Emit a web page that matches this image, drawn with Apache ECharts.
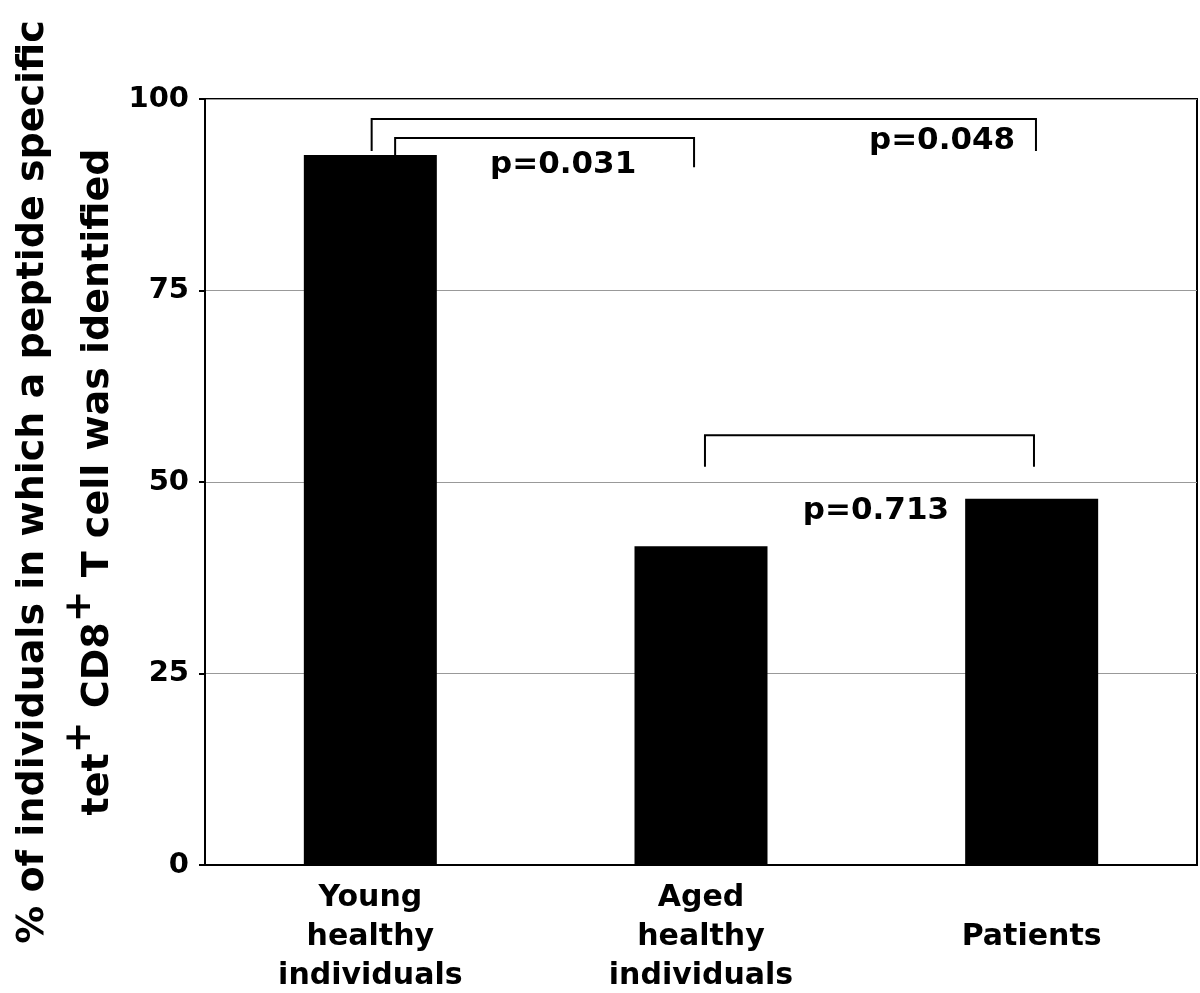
<!DOCTYPE html>
<html>
<head>
<meta charset="utf-8">
<script src="https://cdn.jsdelivr.net/npm/echarts@6/dist/echarts.min.js"></script>
<style>html,body{margin:0;padding:0;background:#fff}#c{width:1200px;height:993px}</style>
</head>
<body>
<div id="c"></div>
<script>
var categories = ['Young\nhealthy\nindividuals', 'Aged\nhealthy\nindividuals', 'Patients'];
var values = [92.7, 41.6, 47.8];
var yTicks = [0, 25, 50, 75, 100];
// brackets: [fromX, toX, barY, leftLegEndY, rightLegEndY] in category-index / percent units
var brackets = [
  [0.004, 2.013, 97.4, 93.2, 93.2],
  [0.075, 0.979, 94.9, 92.7, 91.1],
  [1.012, 2.007, 56.1, 52.0, 52.0]
];
// p-value labels: [x, y, text]
var pLabels = [
  [0.583, 91.4, 'p=0.031'],
  [1.729, 94.5, 'p=0.048'],
  [1.529, 46.2, 'p=0.713']
];

var font = "'DejaVu Sans', Verdana, sans-serif";

var chart = echarts.init(document.getElementById('c'), null, {renderer: 'canvas'});
chart.setOption({
  backgroundColor: '#fff',
  animation: false,
  grid: {left: 205, right: 3, top: 99, bottom: 128, show: true, borderColor: '#000', borderWidth: 2,
    backgroundColor: 'transparent', containLabel: false, outerBoundsMode: 'none'},
  xAxis: [{
    type: 'category',
    data: categories,
    axisLine: {show: true, onZero: false, lineStyle: {color: '#000', width: 2}},
    axisTick: {show: false},
    axisLabel: {color: '#000', fontFamily: font, fontWeight: 'bold', fontSize: 30, lineHeight: 39, margin: 72, verticalAlign: 'middle', interval: 0}
  }, {
    type: 'value', min: -0.5, max: 2.5, show: false,
    axisLine: {onZero: false}
  }],
  yAxis: {
    type: 'value', min: 0, max: 100, interval: 25,
    axisLine: {show: true, onZero: false, lineStyle: {color: '#000', width: 2}},
    axisTick: {show: true, length: 6, lineStyle: {color: '#000', width: 2}},
    splitLine: {show: true, lineStyle: {color: '#999', width: 1}},
    axisLabel: {color: '#000', fontFamily: font, fontWeight: 'bold', fontSize: 29, margin: 16,
      customValues: yTicks},
    name: '{a|% of individuals in which a peptide specific}\n{a|tet}{s|+}{a| CD8}{s|+}{a| T cell was identified}',
    nameLocation: 'middle',
    nameRotate: 90,
    nameGap: 88,
    nameTextStyle: {
      rich: {
        a: {fontFamily: font, fontWeight: 'bold', fontSize: 38, color: '#000', lineHeight: 65, verticalAlign: 'bottom'},
        s: {fontFamily: font, fontWeight: 'bold', fontSize: 38, color: '#000', lineHeight: 65, verticalAlign: 'bottom', padding: [0, 0, 18, 0]}
      }
    }
  },
  series: [{
    type: 'bar',
    data: values,
    barWidth: 133,
    itemStyle: {color: '#000'},
    silent: true
  }, {
    type: 'custom',
    xAxisIndex: 1,
    data: brackets,
    encode: {x: [0, 1], y: [2, 3, 4]},
    renderItem: function (params, api) {
      var x1 = api.value(0), x2 = api.value(1), yb = api.value(2), yl = api.value(3), yr = api.value(4);
      return {
        type: 'polyline',
        shape: {points: [api.coord([x1, yl]), api.coord([x1, yb]), api.coord([x2, yb]), api.coord([x2, yr])]},
        style: {stroke: '#000', lineWidth: 2, fill: null}
      };
    },
    silent: true
  }, {
    type: 'custom',
    xAxisIndex: 1,
    data: pLabels,
    encode: {x: 0, y: 1},
    renderItem: function (params, api) {
      var p = api.coord([api.value(0), api.value(1)]);
      return {
        type: 'text',
        x: p[0], y: p[1],
        style: {text: pLabels[params.dataIndex][2], fill: '#000', font: 'bold 31px ' + font, align: 'center', verticalAlign: 'middle'}
      };
    },
    silent: true
  }]
});
</script>
</body>
</html>
